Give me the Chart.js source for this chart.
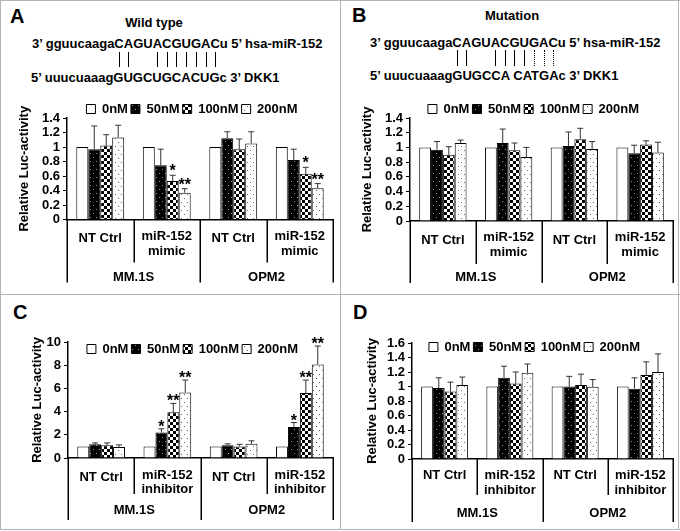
<!DOCTYPE html>
<html>
<head>
<meta charset="utf-8">
<script src="https://cdn.jsdelivr.net/npm/chart.js@4.4.1/dist/chart.umd.min.js"></script>
<style>
  body { margin: 0; background: #fff; }
  #fig { position: relative; width: 680px; height: 531px; overflow: hidden;
         font-family: "Liberation Sans", Arial, sans-serif; color: #000; }
  .frame { position: absolute; background: #b4b4b4; }
  .txt { position: absolute; font-weight: bold; white-space: nowrap; line-height: 1; }
  .seq { font-size: 13px; }
  .letter { font-size: 20px; }
  .bp { position: absolute; width: 0; border-left: 1.5px solid #000; }
  .bp.dot { border-left: 1.5px dotted #000; }
  canvas { position: absolute; }
</style>
</head>
<body>
<div id="fig">
  <div class="frame" style="left:0;top:0;width:680px;height:1px"></div>
  <div class="frame" style="left:0;top:529px;width:680px;height:1px"></div>
  <div class="frame" style="left:0;top:0;width:1px;height:530px"></div>
  <div class="frame" style="left:678px;top:0;width:1px;height:530px"></div>
  <div class="frame" style="left:340px;top:0;width:1px;height:530px"></div>
  <div class="frame" style="left:0;top:294px;width:680px;height:1px"></div>

  <div class="txt letter" style="left:10px;top:6px">A</div>
  <div class="txt letter" style="left:352px;top:5px">B</div>
  <div class="txt letter" style="left:13px;top:302px">C</div>
  <div class="txt letter" style="left:353px;top:302px">D</div>

  <div class="txt seq" style="left:54px;width:200px;text-align:center;top:16px">Wild type</div>
  <div class="txt seq" id="wtMir" style="left:32px;top:37px">3’ gguucaagaCAGUACGUGACu 5’ hsa-miR-152</div>
  <div class="txt seq" id="wtDkk" style="left:31px;top:71px">5’ uuucuaaagGUGCUGCACUGc 3’ DKK1</div>

  <div class="txt seq" style="left:412px;width:200px;text-align:center;top:9px">Mutation</div>
  <div class="txt seq" id="mutMir" style="left:370px;top:36px">3’ gguucaagaCAGUACGUGACu 5’ hsa-miR-152</div>
  <div class="txt seq" id="mutDkk" style="left:370px;top:69px">5’ uuucuaaagGUGCCA CATGAc 3’ DKK1</div>

  <canvas id="chartA" width="336" height="198" style="left:2px;top:92px"></canvas>
  <canvas id="chartB" width="336" height="198" style="left:342px;top:92px"></canvas>
  <canvas id="chartC" width="336" height="232" style="left:2px;top:296px"></canvas>
  <canvas id="chartD" width="336" height="232" style="left:342px;top:296px"></canvas>
</div>

<script>
const series = ['0nM', '50nM', '100nM', '200nM'];
const cellLines = ['MM.1S', 'OPM2'];
const mimicCats = ['NT Ctrl', ['miR-152', 'mimic'], 'NT Ctrl', ['miR-152', 'mimic']];
const inhibCats = ['NT Ctrl', ['miR-152', 'inhibitor'], 'NT Ctrl', ['miR-152', 'inhibitor']];

// A: wild type 3'UTR, mimic
const a0 = [1, 1, 1, 1];
const a50 = [0.97, 0.75, 1.12, 0.82];
const a100 = [1.02, 0.53, 0.97, 0.63];
const a200 = [1.13, 0.37, 1.05, 0.43];
const aErr50 = [0.32, 0.22, 0.09, 0.15];
const aErr100 = [0.15, 0.08, 0.14, 0.09];
const aErr200 = [0.17, 0.055, 0.16, 0.065];
const aStars100 = ['', '*', '', '*'];
const aStars200 = ['', '**', '', '**'];
const aTicks = [0, 0.2, 0.4, 0.6, 0.8, 1, 1.2, 1.4];

// B: mutated 3'UTR, mimic
const b0 = [1, 1, 1, 1];
const b50 = [0.97, 1.06, 1.02, 0.92];
const b100 = [0.90, 0.96, 1.11, 1.04];
const b200 = [1.06, 0.87, 0.98, 0.93];
const bErr50 = [0.11, 0.19, 0.19, 0.11];
const bErr100 = [0.11, 0.10, 0.15, 0.05];
const bErr200 = [0.04, 0.13, 0.10, 0.14];
const bTicks = [0, 0.2, 0.4, 0.6, 0.8, 1, 1.2, 1.4];

// C: wild type, inhibitor
const c0 = [1, 1, 1, 1];
const c50 = [1.18, 2.2, 1.1, 2.68];
const c100 = [1.1, 3.95, 1.0, 5.6];
const c200 = [0.95, 5.65, 1.22, 8.05];
const cErr50 = [0.12, 0.32, 0.12, 0.38];
const cErr100 = [0.2, 0.76, 0.18, 1.12];
const cErr200 = [0.18, 1.07, 0.26, 1.6];
const cStars50 = ['', '*', '', '*'];
const cStars100 = ['', '**', '', '**'];
const cStars200 = ['', '**', '', '**'];
const cTicks = [0, 2, 4, 6, 8, 10];

// D: mutated, inhibitor
const d0 = [1, 1, 1, 1];
const d50 = [0.98, 1.12, 1.0, 0.97];
const d100 = [0.93, 1.04, 1.02, 1.16];
const d200 = [1.02, 1.19, 0.995, 1.2];
const dErr50 = [0.14, 0.16, 0.14, 0.15];
const dErr100 = [0.13, 0.16, 0.15, 0.18];
const dErr200 = [0.11, 0.12, 0.1, 0.25];
const dTicks = [0, 0.2, 0.4, 0.6, 0.8, 1, 1.2, 1.4, 1.6];

const noErr = [0, 0, 0, 0];
const noStars = ['', '', '', ''];
const FONT = '"Liberation Sans", Arial, sans-serif';

Chart.defaults.font.family = FONT;
Chart.defaults.color = '#000';

// base-pair ticks under the sequences, placed on the letters
function pairLines(textId, solid, dotted, y0, y1) {
  const el = document.getElementById(textId);
  const g = document.createElement('canvas').getContext('2d');
  g.font = 'bold 13px ' + FONT;
  const s = el.textContent;
  const start = s.indexOf('CAGU');
  const left = parseFloat(el.style.left);
  const put = (k, cls) => {
    const a = g.measureText(s.slice(0, start + k)).width;
    const b = g.measureText(s.slice(0, start + k + 1)).width;
    const d = document.createElement('div');
    d.className = cls;
    d.style.left = (left + (a + b) / 2 - 0.75) + 'px';
    d.style.top = y0 + 'px';
    d.style.height = (y1 - y0) + 'px';
    document.getElementById('fig').appendChild(d);
  };
  solid.forEach(k => put(k, 'bp'));
  dotted.forEach(k => put(k, 'bp dot'));
}
pairLines('wtMir', [0, 1, 4, 5, 6, 7, 8, 9, 10], [], 52, 67);
pairLines('mutMir', [0, 1, 4, 5, 6, 7], [8, 9, 10], 50, 66);

function makePatterns() {
  const mk = (w, h, draw) => {
    const c = document.createElement('canvas');
    c.width = w; c.height = h;
    const g = c.getContext('2d');
    draw(g);
    return g.createPattern(c, 'repeat');
  };
  return [
    '#ffffff',
    mk(6, 8, g => { g.fillStyle = '#000'; g.fillRect(0, 0, 6, 8); g.fillStyle = '#9a9a9a'; g.fillRect(1, 1, 1, 1); g.fillRect(4, 5, 1, 1); }),
    mk(6, 6, g => { g.fillStyle = '#fff'; g.fillRect(0, 0, 6, 6); g.fillStyle = '#000'; g.fillRect(0, 0, 3, 3); g.fillRect(3, 3, 3, 3); }),
    mk(6, 8, g => { g.fillStyle = '#fff'; g.fillRect(0, 0, 6, 8); g.fillStyle = '#666'; g.fillRect(2, 2, 1, 1); g.fillRect(5, 6, 1, 1); })
  ];
}

function panel(id, p) {
  const canvas = document.getElementById(id);
  const cx = parseFloat(canvas.style.left), cy = parseFloat(canvas.style.top);
  const fills = makePatterns();
  const padLeft = p.titleX - cx - 9.8;

  const deco = {
    id: 'deco',
    // move the legend down so it sits level with the top tick, as in the figure
    afterLayout(chart) {
      const lg = chart.legend;
      const top = p.legendY - cy - 3 - 6.5;
      const h = lg.bottom - lg.top;
      lg.top = top;
      lg.bottom = top + h;
      lg.left -= 8;
      lg.right -= 8;
    },
    afterDatasetsDraw(chart) {
      const ctx = chart.ctx, xs = chart.scales.x, ys = chart.scales.y;
      ctx.save();
      // error bars and significance marks
      chart.data.datasets.forEach((ds, i) => {
        chart.getDatasetMeta(i).data.forEach((bar, j) => {
          const e = p.errors[i][j];
          const top = ys.getPixelForValue(ds.data[j] + e);
          if (e > 0) {
            ctx.strokeStyle = '#333';
            ctx.lineWidth = 1;
            ctx.beginPath();
            ctx.moveTo(bar.x, bar.y);
            ctx.lineTo(bar.x, top);
            ctx.moveTo(bar.x - 3, top);
            ctx.lineTo(bar.x + 3, top);
            ctx.stroke();
          }
          const s = p.stars[i][j];
          if (s) {
            ctx.fillStyle = '#000';
            ctx.font = 'bold 16px ' + FONT;
            ctx.textAlign = 'center';
            ctx.textBaseline = 'alphabetic';
            ctx.fillText(s, bar.x, top + p.starDy);
          }
        });
      });
      // two-level category axis
      const y0 = chart.chartArea.bottom;
      const n = chart.data.labels.length;
      ctx.strokeStyle = '#000';
      ctx.lineWidth = 1.5;
      ctx.beginPath();
      for (let k = 0; k <= n; k++) {
        const px = Math.round(xs.getPixelForValue(k - 0.5)) + 0.25;
        ctx.moveTo(px, y0);
        ctx.lineTo(px, y0 + (k % 2 === 0 ? p.outer : p.inner));
      }
      ctx.stroke();
      ctx.fillStyle = '#000';
      ctx.font = 'bold 13px ' + FONT;
      ctx.textAlign = 'center';
      ctx.textBaseline = 'middle';
      chart.data.labels.forEach((lab, j) => {
        const px = xs.getPixelForValue(j);
        if (Array.isArray(lab)) {
          ctx.fillText(lab[0], px, y0 + p.two[0]);
          ctx.fillText(lab[1], px, y0 + p.two[1]);
        } else {
          ctx.fillText(lab, px, y0 + p.one);
        }
      });
      cellLines.forEach((g, k) => {
        const px = (xs.getPixelForValue(2 * k - 0.5) + xs.getPixelForValue(2 * k + 1.5)) / 2;
        ctx.fillText(g, px, y0 + p.group);
      });
      ctx.restore();
    }
  };

  const options = {
    responsive: false,
    animation: false,
    layout: {
      padding: { left: padLeft, right: cx + canvas.width - p.right, top: 0, bottom: 0 }
    },
    plugins: {
      legend: {
        position: 'top',
        fullSize: false,
        labels: {
          boxWidth: 9,
          boxHeight: 9,
          padding: 3,
          font: { size: 13, weight: 'bold' },
          color: '#000'
        }
      },
      tooltip: { enabled: false }
    },
    scales: {
      x: {
        ticks: { display: false },
        grid: { display: false },
        border: { display: true, color: '#000', width: 1.5 },
        afterFit: s => { s.height = cy + canvas.height - p.bottom; }
      },
      y: {
        min: 0,
        max: p.ticks[p.ticks.length - 1],
        afterBuildTicks: s => { s.ticks = p.ticks.map(v => ({ value: v })); },
        afterFit: s => { s.width = p.left - cx - padLeft; },
        ticks: {
          autoSkip: false,
          font: { size: 13, weight: 'bold' },
          color: '#000',
          padding: 3,
          callback: v => String(v)
        },
        grid: { drawOnChartArea: false, drawTicks: true, tickLength: 4, color: '#000' },
        border: { display: true, color: '#000', width: 1.5 },
        title: {
          display: true,
          text: 'Relative Luc-activity',
          font: { size: 13, weight: 'bold' },
          color: '#000',
          padding: { top: 2, bottom: 0 }
        }
      }
    }
  };

  const chart = new Chart(canvas, {
    type: 'bar',
    data: {
      labels: p.cats,
      datasets: series.map((name, i) => ({
        label: name,
        data: p.values[i],
        backgroundColor: fills[i],
        borderColor: '#000',
        borderWidth: 1,
        categoryPercentage: 0.72,
        barPercentage: 1.0
      }))
    },
    options,
    plugins: [deco]
  });
  // second pass: now that the legend height is known, put the plot top where the figure has it
  const legH = chart.legend.height;
  chart.config.options.layout.padding.top = Math.max(0, p.top - cy - legH);
  chart.update();
  return chart;
}

panel('chartA', {
  cats: mimicCats, values: [a0, a50, a100, a200],
  errors: [noErr, aErr50, aErr100, aErr200],
  stars: [noStars, noStars, aStars100, aStars200],
  ticks: aTicks,
  left: 67, right: 333, top: 107.5, bottom: 219.5, titleX: 24, legendY: 109,
  one: 19, two: [17, 32], inner: 43, outer: 63, group: 58, starDy: 1
});
panel('chartB', {
  cats: mimicCats, values: [b0, b50, b100, b200],
  errors: [noErr, bErr50, bErr100, bErr200],
  stars: [noStars, noStars, noStars, noStars],
  ticks: bTicks,
  left: 410, right: 673, top: 108.5, bottom: 221, titleX: 367, legendY: 109,
  one: 19, two: [16, 31], inner: 43, outer: 62, group: 56, starDy: 1
});
panel('chartC', {
  cats: inhibCats, values: [c0, c50, c100, c200],
  errors: [noErr, cErr50, cErr100, cErr200],
  stars: [noStars, cStars50, cStars100, cStars200],
  ticks: cTicks,
  left: 68, right: 333, top: 342, bottom: 458, titleX: 37, legendY: 349,
  one: 19, two: [17, 31], inner: 36, outer: 62, group: 52, starDy: 3
});
panel('chartD', {
  cats: inhibCats, values: [d0, d50, d100, d200],
  errors: [noErr, dErr50, dErr100, dErr200],
  stars: [noStars, noStars, noStars, noStars],
  ticks: dTicks,
  left: 412, right: 673, top: 343, bottom: 459, titleX: 372, legendY: 347,
  one: 16, two: [16, 31], inner: 36, outer: 63, group: 54, starDy: 1
});
</script>
</body>
</html>
